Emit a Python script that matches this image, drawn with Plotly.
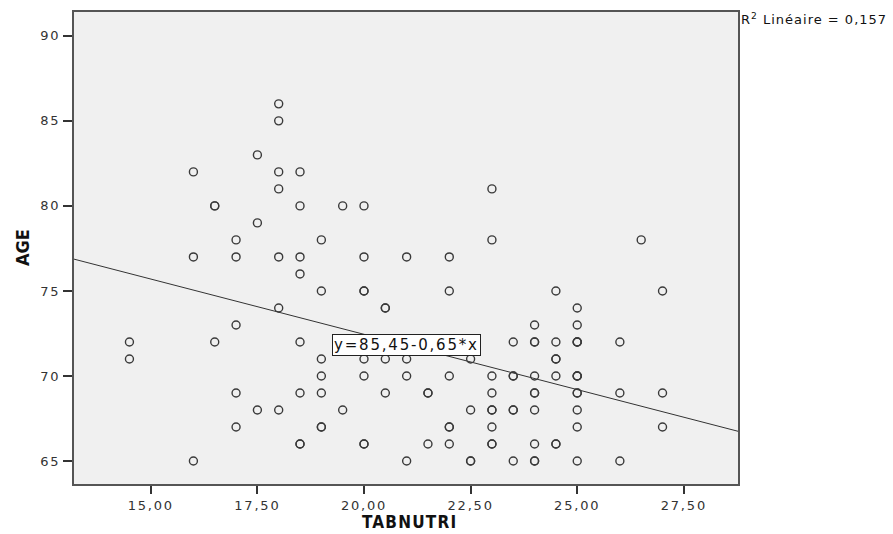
import plotly.graph_objects as go

# TABNUTRI (x) and AGE (y) values; repeated pairs = overlapping (bold) points
tabnutri = [
    14.5, 14.5,
    16, 16, 16,
    16.5, 16.5, 16.5,
    17, 17, 17, 17, 17,
    17.5, 17.5, 17.5,
    18, 18, 18, 18, 18, 18, 18,
    18.5, 18.5, 18.5, 18.5, 18.5, 18.5, 18.5, 18.5,
    19, 19, 19, 19, 19, 19, 19,
    19.5, 19.5,
    20, 20, 20, 20, 20, 20, 20, 20,
    20.5, 20.5, 20.5, 20.5,
    21, 21, 21, 21,
    21.5, 21.5, 21.5,
    22, 22, 22, 22, 22, 22,
    22.5, 22.5, 22.5, 22.5,
    23, 23, 23, 23, 23, 23, 23, 23, 23,
    23.5, 23.5, 23.5, 23.5, 23.5, 23.5,
    24, 24, 24, 24, 24, 24, 24, 24, 24, 24,
    24.5, 24.5, 24.5, 24.5, 24.5, 24.5, 24.5,
    25, 25, 25, 25, 25, 25, 25, 25, 25, 25, 25, 25, 25,
    26, 26, 26,
    26.5,
    27, 27, 27,
]
age = [
    72, 71,
    82, 77, 65,
    80, 80, 72,
    78, 77, 73, 69, 67,
    83, 79, 68,
    86, 85, 82, 81, 77, 74, 68,
    82, 80, 77, 76, 72, 69, 66, 66,
    78, 75, 71, 70, 69, 67, 67,
    80, 68,
    80, 77, 75, 75, 71, 70, 66, 66,
    74, 74, 71, 69,
    77, 71, 70, 65,
    69, 69, 66,
    77, 75, 70, 67, 67, 66,
    71, 68, 65, 65,
    81, 78, 70, 69, 68, 68, 67, 66, 66,
    72, 70, 70, 68, 68, 65,
    73, 72, 72, 70, 69, 69, 68, 66, 65, 65,
    75, 72, 71, 71, 70, 66, 66,
    74, 73, 72, 72, 70, 70, 69, 69, 68, 67, 65, 72, 70,
    72, 69, 65,
    78,
    75, 69, 67,
]
# fit line coefficients shown on the chart
intercept = 85.45
slope = -0.65
r_squared = "0,157"

x_range = [13.2, 28.77]
y_range = [63.65, 91.4]
x_ticks = [15, 17.5, 20, 22.5, 25, 27.5]
x_tick_labels = ["15,00", "17,50", "20,00", "22,50", "25,00", "27,50"]
y_ticks = [65, 70, 75, 80, 85, 90]
y_tick_labels = ["65", "70", "75", "80", "85", "90"]


def spaced(t, px):
    return '<span style="letter-spacing:%spx">%s</span>' % (px, t)


fig = go.Figure()
fig.add_trace(go.Scatter(
    x=x_range, y=[intercept + slope * v for v in x_range],
    mode="lines", line=dict(color="#333333", width=1), hoverinfo="skip",
))
fig.add_trace(go.Scatter(
    x=tabnutri, y=age, mode="markers",
    marker=dict(symbol="circle-open", size=8, color="#3a3a3a", line=dict(width=1.4, color="#3a3a3a")),
))

font_tick = dict(family="DejaVu Sans, sans-serif", size=13, color="#333333")
fig.update_layout(
    width=893, height=534,
    margin=dict(l=74, r=155, t=10, b=50),
    paper_bgcolor="white", plot_bgcolor="#f0f0f0",
    showlegend=False,
    xaxis=dict(range=x_range, tickvals=x_ticks, ticktext=[spaced(t, 1.8) for t in x_tick_labels],
               ticks="outside", ticklen=8, tickcolor="#333333", tickwidth=2,
               showgrid=False, zeroline=False, showline=True, linecolor="#555555",
               linewidth=2, mirror=True, tickfont=font_tick),
    yaxis=dict(range=y_range, tickvals=y_ticks, ticktext=[spaced(t, 1.8) for t in y_tick_labels],
               ticks="outside", ticklen=9, tickcolor="#333333", tickwidth=2,
               showgrid=False, zeroline=False, showline=True, linecolor="#555555",
               linewidth=2, mirror=True, tickfont=font_tick),
    annotations=[
        dict(x=21, y=intercept + slope * 21, xref="x", yref="y",
             text=spaced("y=85,45-0,65*x", 1.8), showarrow=False,
             font=dict(family="DejaVu Sans, sans-serif", size=15, color="#111111"),
             bgcolor="white", bordercolor="#222222", borderwidth=1, borderpad=1),
        dict(x=1, y=1, xref="paper", yref="paper", xanchor="left", yanchor="top",
             xshift=1, yshift=3,
             text=spaced("R<sup>2</sup> Linéaire = " + r_squared, 1), showarrow=False,
             font=dict(family="DejaVu Sans, sans-serif", size=13, color="#111111")),
        dict(x=0, y=0.5, xref="paper", yref="paper", xanchor="center", yanchor="middle",
             xshift=-52, textangle=-90, text="<b>AGE</b>", showarrow=False,
             font=dict(family="DejaVu Sans Condensed, Liberation Sans Narrow, sans-serif", size=18, color="#111111")),
        dict(x=0.505, y=0, xref="paper", yref="paper", xanchor="center", yanchor="middle",
             yshift=-38, text="<b>" + spaced("TABNUTRI", 1.2) + "</b>", showarrow=False,
             font=dict(family="DejaVu Sans Condensed, Liberation Sans Narrow, sans-serif", size=17, color="#111111")),
    ],
)
fig.write_html("out.html")
